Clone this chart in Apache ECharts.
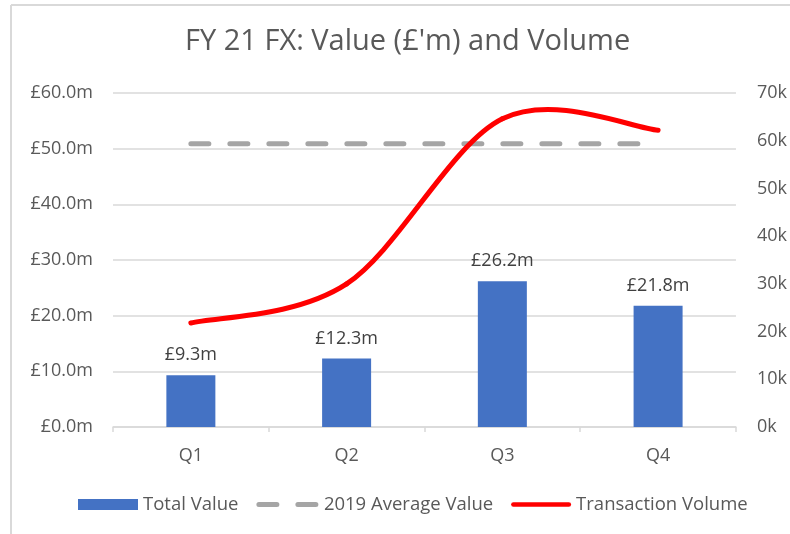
<!DOCTYPE html>
<html>
<head>
<meta charset="utf-8">
<script src="https://cdn.jsdelivr.net/npm/echarts@6/dist/echarts.min.js"></script>
<style>
html,body{margin:0;padding:0;background:#fff;}
#chart{width:790px;height:534px;}
</style>
</head>
<body>
<div id="chart"></div>
<script>
const categories = ['Q1', 'Q2', 'Q3', 'Q4'];
const totalValue = [9.3, 12.3, 26.2, 21.8];
const avgValue2019 = [50.9, 50.9, 50.9, 50.9];
const transactionVolume = [21800, 30000, 64600, 62200];
const leftTicks = [0, 10, 20, 30, 40, 50, 60];
const rightTicks = [0, 10000, 20000, 30000, 40000, 50000, 60000, 70000];

const FONT = 'Open Sans';
const TXT = '#595959';
const GRID = '#d9d9d9';
const DASH = {color: '#a5a5a5', width: 5, type: [18, 21], cap: 'round'};
const RED = {color: '#ff0000', width: 5, cap: 'round'};

// Excel-style smoothed line: cubic Bezier segments, control points at 1/6 of neighbour span
function renderSmooth(params, api) {
  const n = params.dataInsideLength;
  const i = params.dataIndexInside;
  if (i >= n - 1) return {type: 'group', children: []};
  const P = k => {
    const kk = Math.max(0, Math.min(n - 1, k));
    return api.coord([api.value(0, kk), api.value(1, kk)]);
  };
  const p0 = P(i - 1), p1 = P(i), p2 = P(i + 1), p3 = P(i + 2);
  return {
    type: 'bezierCurve',
    shape: {
      x1: p1[0], y1: p1[1],
      cpx1: p1[0] + (p2[0] - p0[0]) / 6, cpy1: p1[1] + (p2[1] - p0[1]) / 6,
      cpx2: p2[0] - (p3[0] - p1[0]) / 6, cpy2: p2[1] - (p3[1] - p1[1]) / 6,
      x2: p2[0], y2: p2[1]
    },
    style: {stroke: RED.color, lineWidth: RED.width, lineCap: 'round', fill: null}
  };
}

const chart = echarts.init(document.getElementById('chart'), null, {renderer: 'canvas'});
chart.setOption({
  animation: false,
  backgroundColor: '#ffffff',
  textStyle: {fontFamily: FONT},
  title: {
    text: "FY 21 FX: Value (£'m) and Volume",
    left: 185, top: 27,
    padding: 0,
    textStyle: {fontFamily: FONT, fontSize: 29, fontWeight: 'normal', color: TXT}
  },
  graphic: [
    {type: 'line', shape: {x1: 11, y1: 5, x2: 790, y2: 5}, style: {stroke: GRID, lineWidth: 2}, silent: true},
    {type: 'line', shape: {x1: 11, y1: 5, x2: 11, y2: 534}, style: {stroke: GRID, lineWidth: 2}, silent: true}
  ],
  legend: {
    left: 73, top: 490,
    itemWidth: 60, itemHeight: 11, itemGap: 18,
    textStyle: {fontFamily: FONT, fontSize: 18.5, color: TXT},
    data: [
      {name: 'Total Value', icon: 'rect'},
      {name: '2019 Average Value', itemStyle: {opacity: 0}, lineStyle: DASH},
      {name: 'Transaction Volume', icon: 'path://M2.5,0h59a2.5,2.5 0 0 1 0,5h-59a2.5,2.5 0 0 1 0,-5z'}
    ]
  },
  grid: {left: 113, right: 54, top: 93, bottom: 107, containLabel: false},
  xAxis: {
    type: 'category',
    data: categories,
    boundaryGap: true,
    axisLine: {lineStyle: {color: GRID, width: 1.5}},
    axisTick: {show: true, length: 5, lineStyle: {color: GRID, width: 1.5}},
    axisLabel: {color: TXT, fontFamily: FONT, fontSize: 18, margin: 20}
  },
  yAxis: [
    {
      type: 'value', min: leftTicks[0], max: leftTicks[leftTicks.length - 1], interval: 10,
      axisLine: {show: false}, axisTick: {show: false},
      splitLine: {lineStyle: {color: GRID, width: 1.5}},
      axisLabel: {color: TXT, fontFamily: FONT, fontSize: 18, margin: 20,
        formatter: v => '£' + v.toFixed(1) + 'm'}
    },
    {
      type: 'value', min: rightTicks[0], max: rightTicks[rightTicks.length - 1], interval: 10000,
      position: 'right',
      axisLine: {show: false}, axisTick: {show: false},
      splitLine: {show: false},
      axisLabel: {color: TXT, fontFamily: FONT, fontSize: 18, margin: 21,
        formatter: v => (v / 1000) + 'k'}
    }
  ],
  series: [
    {
      name: 'Total Value', type: 'bar', yAxisIndex: 0,
      data: totalValue, barWidth: 49,
      itemStyle: {color: '#4472c4'},
      label: {show: true, position: 'top', distance: 11, color: '#404040',
        fontFamily: FONT, fontSize: 18, formatter: p => '£' + p.value.toFixed(1) + 'm'},
      z: 2
    },
    {
      name: '2019 Average Value', type: 'line', yAxisIndex: 0,
      data: avgValue2019, symbol: 'none',
      itemStyle: {color: '#a5a5a5'},
      lineStyle: DASH,
      z: 3
    },
    {
      name: 'Transaction Volume', type: 'custom', yAxisIndex: 1,
      coordinateSystem: 'cartesian2d',
      data: transactionVolume.map((v, i) => [i, v]),
      encode: {x: 0, y: 1},
      itemStyle: {color: '#ff0000'},
      renderItem: renderSmooth,
      clip: false,
      z: 4
    }
  ]
});
</script>
</body>
</html>
